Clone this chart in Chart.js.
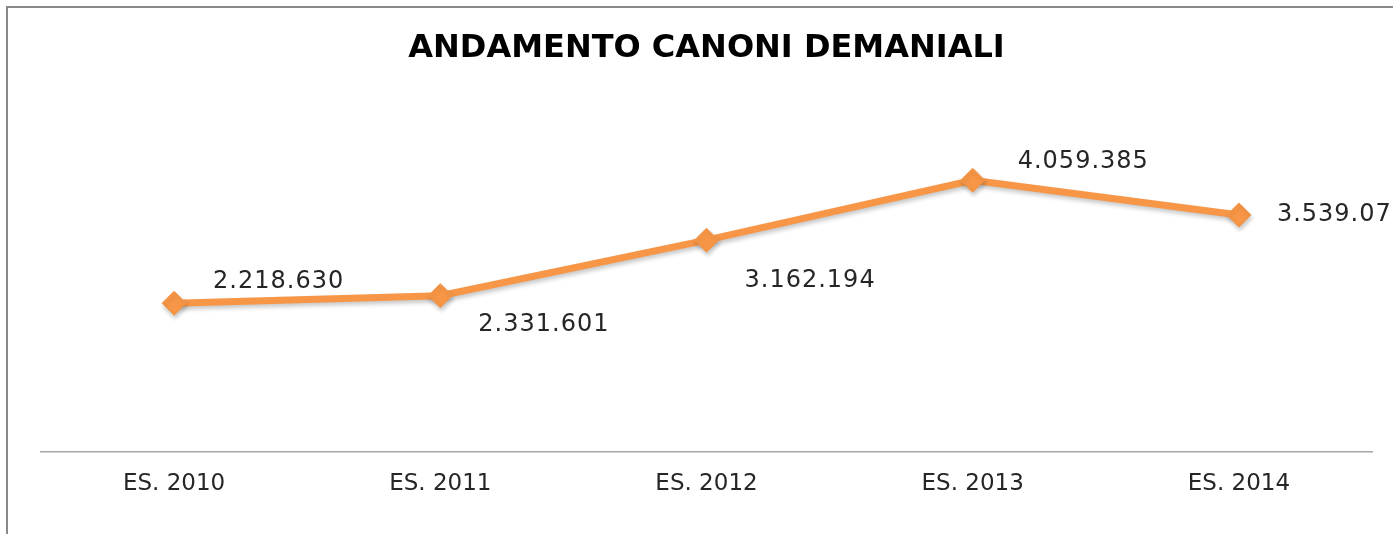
<!DOCTYPE html>
<html>
<head>
<meta charset="utf-8">
<script src="https://cdn.jsdelivr.net/npm/chart.js@4/dist/chart.umd.min.js"></script>
<style>
  html, body { margin: 0; padding: 0; background: #ffffff; }
  #wrap { width: 1393px; height: 534px; position: relative; }
</style>
</head>
<body>
<div id="wrap"><canvas id="c" width="1393" height="534"></canvas></div>
<script>
// ---- data ----
const chartTitle = 'ANDAMENTO CANONI DEMANIALI';
const categories = ['ES. 2010', 'ES. 2011', 'ES. 2012', 'ES. 2013', 'ES. 2014'];
const canoni = [2218630, 2331601, 3162194, 4059385, 3539073];

// ---- styling (label offsets relative to each point) ----
const labelOffsets = [[39, -21], [38, 29], [38, 41], [45, -18], [38, 0]];

function fmtIt(n) {
  return String(n).replace(/\B(?=(\d{3})+(?!\d))/g, '.');
}

const framePlugin = {
  id: 'frame',
  beforeDraw(chart) {
    const ctx = chart.ctx;
    ctx.save();
    ctx.fillStyle = '#ffffff';
    ctx.fillRect(0, 0, chart.width, chart.height);
    ctx.strokeStyle = '#8a8a8a';
    ctx.lineWidth = 2;
    ctx.beginPath();
    ctx.moveTo(7, chart.height);
    ctx.lineTo(7, 7);
    ctx.lineTo(chart.width, 7);
    ctx.stroke();
    ctx.restore();
  }
};

const shadowPlugin = {
  id: 'shadow',
  beforeDatasetsDraw(chart) {
    const ctx = chart.ctx;
    ctx.save();
    ctx.shadowColor = 'rgba(0,0,0,0.22)';
    ctx.shadowBlur = 4;
    ctx.shadowOffsetX = 1;
    ctx.shadowOffsetY = 3;
  },
  afterDatasetsDraw(chart) {
    chart.ctx.restore();
  }
};

const labelPlugin = {
  id: 'valueLabels',
  afterDatasetsDraw(chart) {
    const ctx = chart.ctx;
    const meta = chart.getDatasetMeta(0);
    ctx.save();
    ctx.font = '24px "DejaVu Sans"';
    ctx.fillStyle = '#262626';
    ctx.textAlign = 'left';
    ctx.textBaseline = 'middle';
    try { ctx.letterSpacing = '1px'; } catch (e) {}
    meta.data.forEach((pt, i) => {
      const off = labelOffsets[i] || [10, 0];
      ctx.fillText(fmtIt(canoni[i]), pt.x + off[0], pt.y + off[1]);
    });
    ctx.restore();
  }
};

new Chart(document.getElementById('c'), {
  type: 'line',
  data: {
    labels: categories,
    datasets: [{
      label: 'Canoni',
      data: canoni,
      borderColor: '#F79646',
      backgroundColor: '#F79646',
      borderWidth: 7,
      tension: 0,
      pointStyle: 'rectRot',
      pointRadius: 12,
      pointHoverRadius: 12,
      pointBackgroundColor: '#F79646',
      pointBorderColor: '#F79646',
      pointBorderWidth: 1
    }]
  },
  options: {
    responsive: false,
    animation: false,
    devicePixelRatio: 1,
    layout: { padding: { left: 41, right: 21, top: 0, bottom: 17 } },
    plugins: {
      legend: { display: false },
      tooltip: { enabled: false },
      title: {
        display: true,
        text: chartTitle,
        color: '#000000',
        font: { family: '"DejaVu Sans"', size: 32, weight: 'bold', lineHeight: 1.2 },
        padding: { top: 29, bottom: 50 }
      }
    },
    scales: {
      x: {
        offset: true,
        grid: { display: false, drawTicks: false, tickLength: 0 },
        border: { display: true, color: '#a6a6a6', width: 1.5 },
        ticks: {
          color: '#262626',
          padding: 19,
          maxRotation: 0,
          autoSkip: false,
          font: { family: '"DejaVu Sans"', size: 23, lineHeight: 1.2 }
        }
      },
      y: {
        display: false,
        min: 0,
        max: 5000000
      }
    }
  },
  plugins: [framePlugin, shadowPlugin, labelPlugin]
});
</script>
</body>
</html>
